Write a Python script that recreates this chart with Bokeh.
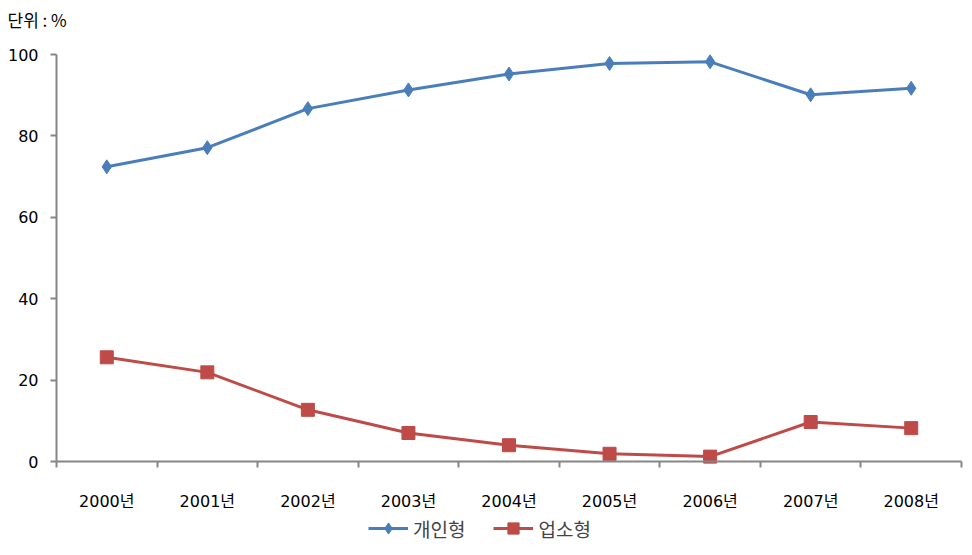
import numpy as np
from bokeh.plotting import figure
from bokeh.models import (Range1d, FixedTicker, LinearAxis, Label, Legend, LegendItem)
from bokeh.embed import file_html
from bokeh.resources import INLINE

years = ["2000년", "2001년", "2002년", "2003년", "2004년", "2005년", "2006년", "2007년", "2008년"]
personal = [72.4, 77.1, 86.7, 91.3, 95.2, 97.8, 98.2, 90.1, 91.7]
business = [25.6, 21.9, 12.7, 7.0, 4.0, 1.9, 1.2, 9.7, 8.2]
series_names = ["개인형", "업소형"]
y_ticks = [0, 20, 40, 60, 80, 100]
unit_text = "단위 : %"

BLUE = "#4A7EBB"
RED = "#BE4B48"
AXIS = "#868686"
TICK_FONT = "'DejaVu Sans', 'Noto Sans CJK KR'"
KR_FONT = "'Noto Sans CJK KR'"

# layout (pixels): whole canvas is the frame; plot area 56..961 x 54..461
W, H = 966, 555
PL, PR, PT, PB = 56, 961, 54, 461

n = len(years)
y_max = y_ticks[-1]
px_x = (PR - PL) / n
px_y = (PB - PT) / y_max
x_start = -PL / px_x
x_end = x_start + W / px_x
y_end = y_max + PT / px_y
y_start = y_end - H / px_y

xs = np.arange(n) + 0.5
bounds = list(range(n + 1))

p = figure(frame_width=W, frame_height=H, output_backend="svg", toolbar_location=None,
           x_range=Range1d(x_start, x_end), y_range=Range1d(y_start, y_end),
           min_border=0, x_axis_type=None, y_axis_type=None)
p.outline_line_color = None
p.xgrid.visible = False
p.ygrid.visible = False
p.background_fill_color = "white"
p.border_fill_color = "white"

# y axis
yax = LinearAxis(ticker=FixedTicker(ticks=y_ticks), fixed_location=0, bounds=(0, y_max))
yax.axis_line_color = AXIS
yax.axis_line_width = 2
yax.major_tick_line_color = AXIS
yax.major_tick_line_width = 2
yax.major_tick_out = 6
yax.major_tick_in = 0
yax.minor_tick_line_color = None
yax.major_label_standoff = 12
yax.major_label_text_font = TICK_FONT
yax.major_label_text_font_size = "16px"
yax.major_label_text_color = "black"
p.add_layout(yax, "left")

# x axis: labels at category centres, tick marks at category boundaries (minor ticks)
xax = LinearAxis(ticker=FixedTicker(ticks=list(xs), minor_ticks=bounds),
                 fixed_location=0, bounds=(0, n))
xax.major_label_overrides = {float(x): lab for x, lab in zip(xs, years)}
xax.axis_line_color = AXIS
xax.axis_line_width = 2
xax.major_tick_line_color = None
xax.major_tick_out = 0
xax.major_tick_in = 0
xax.minor_tick_line_color = AXIS
xax.minor_tick_line_width = 2
xax.minor_tick_out = 6
xax.minor_tick_in = 0
xax.major_label_standoff = 24
xax.major_label_text_font = TICK_FONT
xax.major_label_text_font_size = "16px"
xax.major_label_text_color = "black"
p.add_layout(xax, "below")

l1 = p.line(xs, personal, line_color=BLUE, line_width=3)
m1 = p.scatter(xs, personal, marker="diamond", size=14,
               fill_color=BLUE, line_color=BLUE)
l2 = p.line(xs, business, line_color=RED, line_width=3)
m2 = p.scatter(xs, business, marker="square", size=13, fill_color=RED, line_color=RED)

legend = Legend(items=[LegendItem(label=series_names[0], renderers=[l1, m1]),
                       LegendItem(label=series_names[1], renderers=[l2, m2])],
                orientation="horizontal", location=(368, H - 528 - 14),
                border_line_color=None, background_fill_alpha=0,
                label_text_font=KR_FONT, label_text_font_size="19px",
                glyph_width=40, glyph_height=28, label_standoff=5, spacing=28,
                padding=0, margin=0)
p.add_layout(legend, "center")

p.add_layout(Label(x=7, y=H - 6, x_units="screen", y_units="screen", text=unit_text,
                   text_baseline="top", text_font=KR_FONT, text_font_size="17px",
                   text_color="black"))

open("out.html", "w").write(file_html(p, INLINE))
